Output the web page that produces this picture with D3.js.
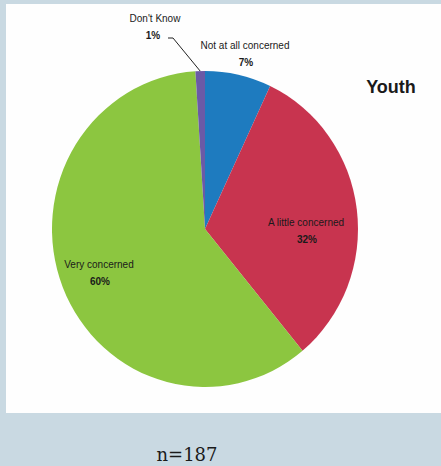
<!DOCTYPE html>
<html><head><meta charset="utf-8">
<script src="https://cdn.jsdelivr.net/npm/d3@7"></script>
<style>html,body{margin:0;padding:0;background:#c9d9e2;}</style>
</head><body>
<script>
const categories = ["Not at all concerned", "A little concerned", "Very concerned", "Don't Know"];
const values = [7, 32, 60, 1];
const pctLabels = ["7%", "32%", "60%", "1%"];
const colors = ["#1e7bbf", "#c8344f", "#8cc640", "#6b5aa6"];
const title = "Youth";
const footnote = "n=187";

const W = 441, H = 466;
const svg = d3.select("body").append("svg").attr("width", W).attr("height", H);
svg.append("rect").attr("width", W).attr("height", H).attr("fill", "#c9d9e2");
svg.append("rect").attr("x", 6).attr("y", 4).attr("width", W - 6).attr("height", 409).attr("fill", "#fefefe");

const cx = 205, cy = 229, rx = 153, ry = 158;
const pie = d3.pie().sort(null).value(d => d)(values);
const arc = d3.arc().innerRadius(0).outerRadius(ry);
const g = svg.append("g").attr("transform", `translate(${cx},${cy}) scale(${rx / ry},1)`);
g.selectAll("path").data(pie).join("path")
  .attr("d", arc).attr("fill", (d, i) => colors[i]);

const labelPos = [
  {x: 245, y: 45},
  {x: 306, y: 222},
  {x: 99, y: 264},
  {x: 155, y: 18}
];
const lab = svg.append("g").attr("font-family", "Liberation Sans, Arial, sans-serif")
  .attr("font-size", 10).attr("fill", "#1a1a1a").attr("text-anchor", "middle");
categories.forEach((c, i) => {
  const p = labelPos[i];
  lab.append("text").attr("x", p.x).attr("y", p.y + 3.5).text(c);
  lab.append("text").attr("x", p.x + (i === 3 ? -2 : 1)).attr("y", p.y + 20.5).attr("font-weight", "bold").text(pctLabels[i]);
});

// leader line for Don't Know
const dk = pie[3];
const mid = (dk.startAngle + dk.endAngle) / 2;
const ex = cx + rx * Math.sin(mid), ey = cy - ry * Math.cos(mid);
svg.append("path").attr("d", `M168,38 L173,38 L${ex},${ey}`)
  .attr("fill", "none").attr("stroke", "#222").attr("stroke-width", 1);

svg.append("text").attr("x", 391).attr("y", 93).attr("text-anchor", "middle")
  .attr("font-family", "Liberation Sans, Arial, sans-serif").attr("font-weight", "bold")
  .attr("font-size", 18).attr("fill", "#1a1a1a").text(title);

svg.append("text").attr("x", 187).attr("y", 461).attr("text-anchor", "middle")
  .attr("font-family", "DejaVu Serif, Liberation Serif, serif")
  .attr("font-size", 18).attr("fill", "#1a1a1a").text(footnote);
</script>
</body></html>
